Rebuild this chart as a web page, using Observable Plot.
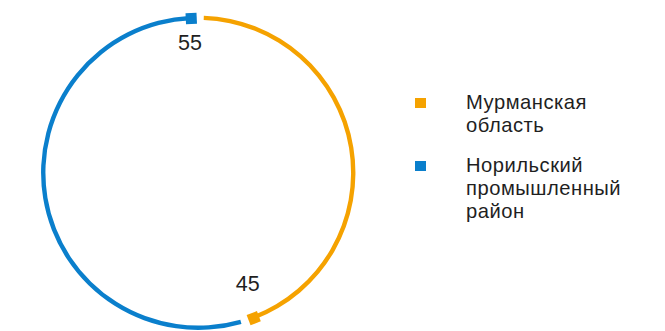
<!DOCTYPE html>
<html>
<head>
<meta charset="utf-8">
<script src="https://cdn.jsdelivr.net/npm/d3@7"></script>
<script src="https://cdn.jsdelivr.net/npm/@observablehq/plot@0.6"></script>
<style>
  html, body { margin: 0; padding: 0; background: #fff; }
  #wrap { position: relative; width: 665px; height: 331px; font-family: "Liberation Sans", Arial, sans-serif; }
  #chart { position: absolute; left: 0; top: 0; }
  .leg { position: absolute; left: 415px; font-size: 20.2px; color: #1f1f1f; }
  .leg .sw { position: absolute; left: 0; width: 11px; height: 10px; }
  .leg .lbl { position: absolute; left: 51px; white-space: nowrap; letter-spacing: 0.5px; }
  .leg .ln { display: block; height: 23.3px; line-height: 23.3px; }
</style>
</head>
<body>
<div id="wrap"><div id="chart"></div></div>
<script>
// ---- data ----
const categories = ["Мурманская область", "Норильский промышленный район"];
const values = [45, 55];
const colors = ["#F5A200", "#0A7FCC"];
const labels = ["45", "55"];
const legendLines = [["Мурманская", "область"], ["Норильский", "промышленный", "район"]];

// ---- layout ----
const W = 400, H = 331;
const cx = 198.25, cy = 172.75, R = 155;
const gapStart = 5.5, gapEnd = 7.5; // px along the arc

const pie = d3.pie().sort(null).value(d => d)(values);
const segs = pie.map((p, i) => {
  const a0 = p.startAngle + gapStart / R;
  const a1 = p.endAngle - gapEnd / R;
  return {cat: categories[i], value: values[i], label: labels[i], a0, a1,
          sx: Math.sin(a1), sy: Math.cos(a1), rot: a1 * 180 / Math.PI,
          lx: 0.81 * Math.sin(a1 - 0.03), ly: 0.81 * Math.cos(a1 - 0.03)};
});

const arcMark = (index, scales, values, dims) => {
  const g = d3.create("svg:g");
  const ox = scales.x(0), oy = scales.y(0);
  const r = scales.x(1) - scales.x(0);
  const arc = d3.arc().innerRadius(r - 2.2).outerRadius(r + 2.2);
  g.selectAll("path").data(segs).join("path")
    .attr("transform", `translate(${ox},${oy})`)
    .attr("d", d => arc({startAngle: d.a0, endAngle: d.a1}))
    .attr("fill", d => scales.color(d.cat));
  return g.node();
};

const plot = Plot.plot({
  width: W, height: H,
  margin: 0,
  style: {fontFamily: "'Liberation Sans', Arial, sans-serif", background: "transparent"},
  x: {domain: [-1, 1], range: [cx - R, cx + R], axis: null},
  y: {domain: [-1, 1], range: [cy + R, cy - R], axis: null},
  color: {domain: categories, range: colors},
  marks: [
    arcMark,
    Plot.dot(segs, {x: "sx", y: "sy", fill: "cat", symbol: "square", r: 6.2, rotate: "rot", stroke: "none"}),
    Plot.text(segs, {x: "lx", y: "ly", text: "label", fontSize: 21.5, dx: 1, dy: -5, fill: "#1f1f1f"})
  ]
});
document.getElementById("chart").appendChild(plot);

// ---- legend ----
const wrap = document.getElementById("wrap");
const tops = [90.5, 153.5];
categories.forEach((c, i) => {
  const d = document.createElement("div");
  d.className = "leg";
  d.style.top = tops[i] + "px";
  const sw = document.createElement("div");
  sw.className = "sw";
  sw.style.background = colors[i];
  sw.style.top = "7.5px";
  const lbl = document.createElement("div");
  lbl.className = "lbl";
  legendLines[i].forEach(t => {
    const ln = document.createElement("span");
    ln.className = "ln";
    ln.textContent = t;
    lbl.appendChild(ln);
  });
  d.appendChild(sw); d.appendChild(lbl);
  wrap.appendChild(d);
});
</script>
</body>
</html>
